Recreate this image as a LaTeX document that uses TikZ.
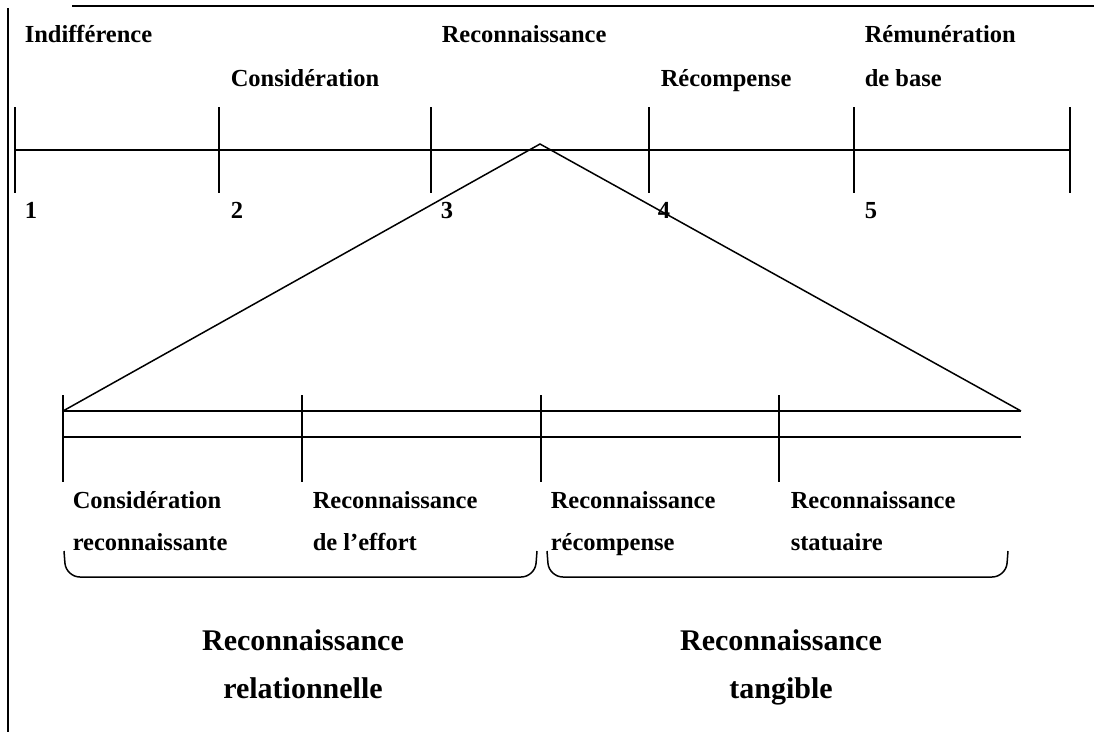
\documentclass[tikz,border=0pt]{standalone}
\usepackage{fontspec}
\setmainfont{Liberation Serif}
\begin{document}
\begin{tikzpicture}[
    x=1pt, y=-1pt,
    line width=1.5pt,
    label/.style={anchor=base west, inner sep=0pt,
      font=\fontsize{24.5}{29}\selectfont\bfseries},
    group/.style={anchor=base, inner sep=0pt,
      font=\fontsize{30}{36}\selectfont\bfseries}
  ]
  \useasboundingbox (0,0) rectangle (1094,732);
  % frame
  \draw (8,8) -- (8,732);
  \draw (72,6) -- (1094,6);

  % upper scale
  \foreach \n/\x in {1/15,2/219,3/431,4/649,5/854,6/1070} {
    \coordinate (t\n) at (\x,150);
    \draw (\x,107) -- (\x,193);
  }
  \draw (t1) -- (t6);
  \foreach \n/\x in {1/24,2/230,3/440,4/657,5/864}
    \node[label] (n\n) at (\x,218) {\n};

  \node[label] (indiff) at (24,42) {Indifférence};
  \node[label] (consid) at (230,86) {Considération};
  \node[label] (reco) at (441,42) {Reconnaissance};
  \node[label] (recomp) at (660,86) {Récompense};
  \node[label] (remun) at (864,42) {Rémunération};
  \node[label] (base) at (864,86) {de base};

  % zoom on recognition
  \coordinate (apex) at (540,144);
  \coordinate (b1) at (63,411);
  \coordinate (b5) at (1021,411);
  \coordinate (c1) at (63,437);
  \coordinate (c5) at (1021,437);
  \draw (b1) -- (apex) -- (b5);
  \draw (b1) -- (b5);
  \draw (c1) -- (c5);
  \foreach \x in {63,302,541,779}
    \draw (\x,395) -- (\x,482);

  \node[label] (crA) at (72,508) {Considération};
  \node[label] (crB) at (72,550) {reconnaissante};
  \node[label] (reA) at (312,508) {Reconnaissance};
  \node[label] (reB) at (312,550) {de l’effort};
  \node[label] (rrA) at (550,508) {Reconnaissance};
  \node[label] (rrB) at (550,550) {récompense};
  \node[label] (rsA) at (790,508) {Reconnaissance};
  \node[label] (rsB) at (790,550) {statuaire};

  % braces
  \draw[rounded corners=14pt] (64,551) -- (66,577) -- (535,577) -- (537,551);
  \draw[rounded corners=14pt] (547,551) -- (549,577) -- (1006,577) -- (1008,551);

  \node[group] (relA) at (303,650) {Reconnaissance};
  \node[group] (relB) at (303,698) {relationnelle};
  \node[group] (tanA) at (781,650) {Reconnaissance};
  \node[group] (tanB) at (781,698) {tangible};
\end{tikzpicture}
\end{document}
